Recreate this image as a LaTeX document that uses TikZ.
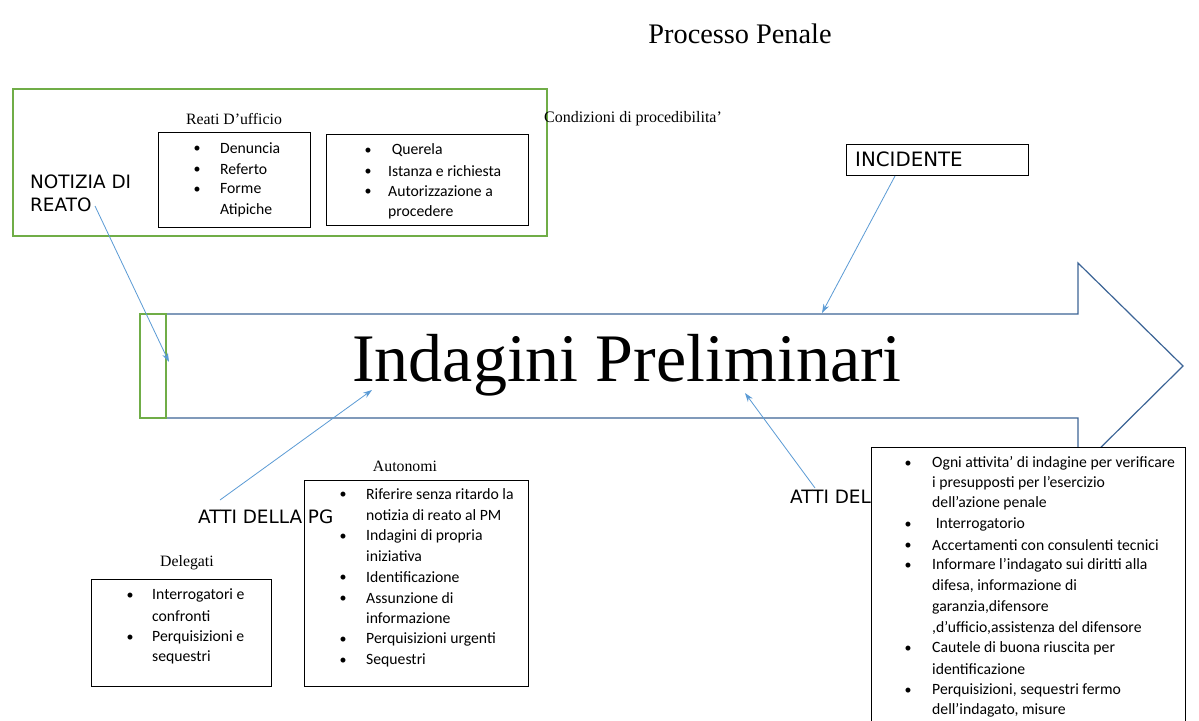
\documentclass[tikz,border=0pt]{standalone}
\usepackage{fontspec}
\usetikzlibrary{arrows.meta}
\setmainfont{Liberation Serif}
\newfontfamily\mycal{Carlito}
\newfontfamily\mydj{DejaVu Sans}
\begin{document}
\begin{tikzpicture}[x=1pt,y=-1pt,
  lb/.style={draw=black,line width=0.8pt},
  it/.style={anchor=west,inner sep=0pt,font=\mycal\fontsize{15.7}{17}\selectfont},
  bu/.style={inner sep=0pt,font=\mycal\fontsize{14}{16}\selectfont},
  ser/.style={inner sep=0pt,font=\fontsize{15.8}{17}\selectfont},
  lab/.style={anchor=west,inner sep=0pt,font=\mydj\fontsize{18.4}{20}\selectfont},
  ptr/.style={draw={rgb,255:red,91;green,155;blue,213},line width=0.8pt,-{Stealth[length=9pt,width=6pt]}}]
\useasboundingbox (0,0) rectangle (1199,720);
\fill[white] (0,0) rectangle (1199,720);
\node[inner sep=0pt,font=\fontsize{28.3}{30}\selectfont] (title) at (740,34) {Processo Penale};
% green box
\draw[draw={rgb,255:red,112;green,173;blue,71},line width=1.2pt] (13,89) rectangle (547,236);
\node[ser] (reati) at (234,119) {Reati D’ufficio};
\node[inner sep=0pt,font=\fontsize{16}{17}\selectfont] (cond) at (633,119) {Condizioni di procedibilita’};
\draw[lb] (158,132) rectangle (310,227);
\foreach \y/\t/\b in {148/Denuncia/1,169/Referto/1,189/Forme/1,210/Atipiche/0}{
  \node[it] at (220,\y) {\t}; \ifnum\b=1 \node[bu] at (197,\y+1) {•};\fi}
\draw[lb] (326,134) rectangle (528,225);
\foreach \y/\t/\b in {150/{\ Querela}/1,171/Istanza e richiesta/1,191/Autorizzazione a/1,212/procedere/0}{
  \node[it] at (388,\y) {\t}; \ifnum\b=1 \node[bu] at (368,\y+1) {•};\fi}
\node[lab] (n1) at (30,182) {NOTIZIA DI};
\node[lab] (n2) at (30,205) {REATO};
\node[draw=black,line width=0.8pt,minimum width=182pt,minimum height=31pt,inner sep=0pt] (inc) at (937,159.5) {};
\node[lab,font=\mydj\fontsize{19.8}{21}\selectfont] at (855,159.5) {INCIDENTE};
% big arrow
\draw[draw={rgb,255:red,60;green,100;blue,150},line width=1.2pt]
  (140,314) -- (1078,314) -- (1078,263) -- (1183,366) -- (1078,470) -- (1078,418) -- (140,418);
\draw[draw={rgb,255:red,112;green,173;blue,71},line width=1.2pt] (140,314) rectangle (166,418);
\node[inner sep=0pt,font=\fontsize{68}{70}\selectfont] (ip) at (627,365) {Indagini Preliminari};
\coordinate (a1) at (95,206); \coordinate (b1) at (169,362);
\coordinate (a2) at (895,176); \coordinate (b2) at (822,313);
\coordinate (a3) at (220,500); \coordinate (b3) at (372,390);
\coordinate (a4) at (815,488); \coordinate (b4) at (745,393);
\draw[ptr] (a1) -- (b1);
\draw[ptr] (a2) -- (b2);
\draw[ptr] (a3) -- (b3);
\draw[ptr] (a4) -- (b4);
% autonomi
\node[ser] (aut) at (405,466) {Autonomi};
\draw[lb] (304,480) rectangle (528,686);
\foreach \y/\t/\b in {494/Riferire senza ritardo la/1,515/notizia di reato al PM/0,536/Indagini di propria/1,556/iniziativa/0,577/Identificazione/1,598/Assunzione di/1,618/informazione/0,639/Perquisizioni urgenti/1,660/Sequestri/1}{
  \node[it] at (366,\y) {\t}; \ifnum\b=1 \node[bu] at (343,\y+1) {•};\fi}
\node[lab] (pg) at (198,517) {ATTI DELLA PG};
\node[ser] (del) at (187,563) {Delegati};
\draw[lb] (91,579) rectangle (271,686);
\foreach \y/\t/\b in {595/Interrogatori e/1,616/confronti/0,637/Perquisizioni e/1,657/sequestri/0}{
  \node[it] at (152,\y) {\t}; \ifnum\b=1 \node[bu] at (130,\y+1) {•};\fi}
\node[lab] (pm) at (790,497) {ATTI DEL};
% right box
\filldraw[fill=white,draw=black,line width=0.8pt] (871,447) rectangle (1185,725);
\foreach \y/\t/\b in {463/Ogni attivita’ di indagine per verificare/1,483/i presupposti per l’esercizio/0,503/dell’azione penale/0,524/{\ Interrogatorio}/1,545/Accertamenti con consulenti tecnici/1,565/Informare l’indagato sui diritti alla/1,586/{difesa, informazione di}/0,607/{garanzia,difensore}/0,628/{,d’ufficio,assistenza del difensore}/0,648/Cautele di buona riuscita per/1,669/identificazione/0,690/{Perquisizioni, sequestri fermo}/1,710/{dell’indagato, misure}/0}{
  \node[it] at (932,\y) {\t}; \ifnum\b=1 \node[bu] at (908,\y+1) {•};\fi}
\end{tikzpicture}
\end{document}
